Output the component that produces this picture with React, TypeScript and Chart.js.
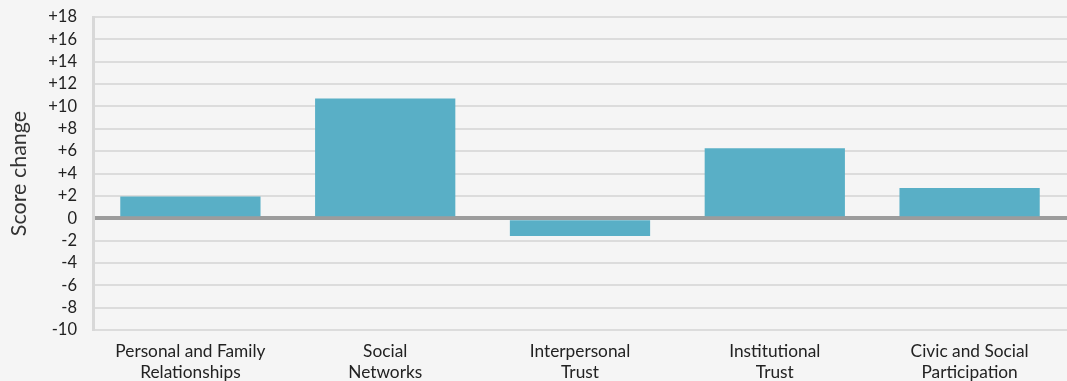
import React, { useEffect, useRef } from "react";
import { Chart, registerables } from "chart.js";

Chart.register(...registerables);

const categories: string[][] = [
  ["Personal and Family", "Relationships"],
  ["Social", "Networks"],
  ["Interpersonal", "Trust"],
  ["Institutional", "Trust"],
  ["Civic and Social", "Participation"],
];
const scoreChange: number[] = [1.95, 10.7, -1.6, 6.25, 2.7];
const yMin = -10;
const yMax = 18;
const yStep = 2;
const yAxisTitle = "Score change";

const FONT = "Lato, 'Open Sans', sans-serif";

export default function App() {
  const ref = useRef<HTMLCanvasElement | null>(null);
  useEffect(() => {
    if (!ref.current) return;
    const chart = new Chart(ref.current, {
      type: "bar",
      data: {
        labels: categories,
        datasets: [
          {
            data: scoreChange,
            backgroundColor: "#59afc6",
            borderWidth: 0,
            barPercentage: 0.72,
            categoryPercentage: 1,
          },
        ],
      },
      options: {
        animation: false,
        responsive: false,
        maintainAspectRatio: false,
        layout: { padding: { top: 17, right: 0, bottom: 0, left: 0 } },
        plugins: { legend: { display: false }, tooltip: { enabled: false } },
        scales: {
          x: {
            grid: { display: false },
            border: { display: false },
            ticks: {
              color: "#222",
              font: { family: FONT, size: 17.3, lineHeight: 1.22 },
              padding: 3,
              maxRotation: 0,
              autoSkip: false,
            },
            afterFit: (s: any) => {
              s.height = 51;
              s.paddingLeft = 0;
              s.paddingRight = 0;
            },
          },
          y: {
            min: yMin,
            max: yMax,
            ticks: {
              stepSize: yStep,
              autoSkip: false,
              color: "#222",
              font: { family: FONT, size: 16.5 },
              padding: 16,
              callback: (v: any) => (Number(v) > 0 ? "+" + v : String(v)),
            },
            grid: {
              drawTicks: false,
              color: (ctx: any) => (ctx.tick && ctx.tick.value === 0 ? "#9c9c9c" : "#dcdcdc"),
              lineWidth: (ctx: any) => (ctx.tick && ctx.tick.value === 0 ? 4 : 2),
            },
            border: { display: true, color: "#d8d8d8", width: 3 },
            title: {
              display: true,
              text: yAxisTitle,
              color: "#333",
              font: { family: FONT, size: 21.5 },
              padding: { top: 6, bottom: 0 },
            },
            afterFit: (s: any) => {
              s.width = 93;
              s.paddingTop = 0;
              s.paddingBottom = 0;
            },
          },
        },
      },
    });
    return () => chart.destroy();
  }, []);
  return (
    <div
      style={{
        position: "fixed",
        left: 0,
        top: 0,
        width: 1067,
        height: 381,
        background: "#f5f5f5",
        overflow: "hidden",
      }}
    >
      <canvas ref={ref} width={1067} height={381} style={{ display: "block" }} />
    </div>
  );
}
